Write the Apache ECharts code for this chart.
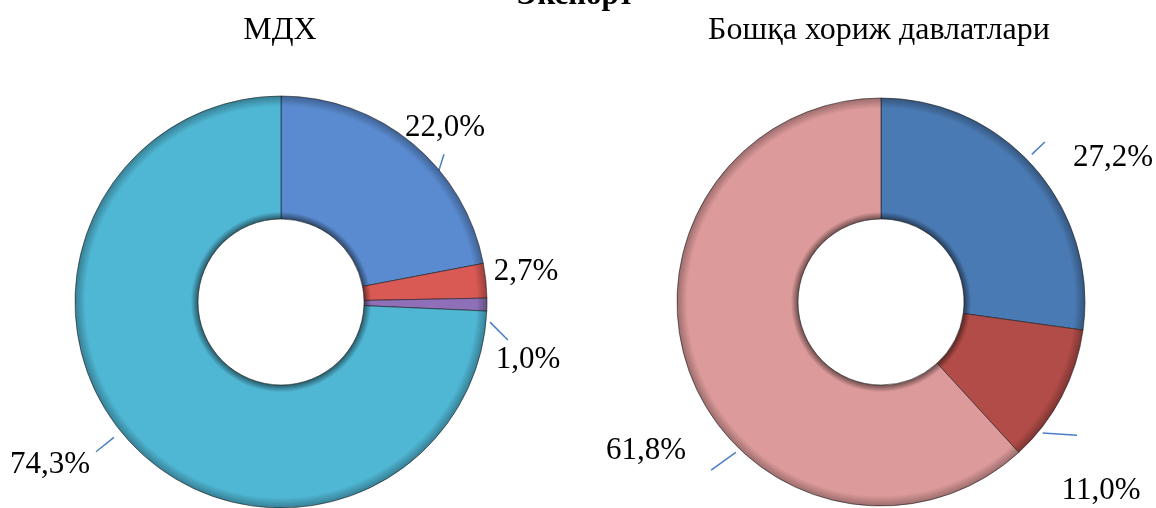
<!DOCTYPE html>
<html>
<head>
<meta charset="utf-8">
<script src="https://cdn.jsdelivr.net/npm/echarts@6/dist/echarts.min.js"></script>
<style>
  html, body { margin: 0; padding: 0; background: #fff; }
  #main { width: 1156px; height: 508px; }
</style>
</head>
<body>
<div id="main"></div>
<script>
// data
const titleText = 'Экспорт';
const leftTitle = 'МДХ';
const rightTitle = 'Бошқа хориж давлатлари';

const leftNames = ['a', 'b', 'c', 'd'];
const leftValues = [22.0, 2.7, 1.0, 74.3];
const leftColors = ['#5a8bd0', '#d95a55', '#8e6fb8', '#4fb6d3'];

const rightNames = ['a', 'b', 'c'];
const rightValues = [27.2, 11.0, 61.8];
const rightColors = ['#4a7ab3', '#b24c48', '#dd9a9a'];

// label spots (text centres) – layout only
const leftLabelPos = [[445, 128], [526, 272], [528, 360], [50, 465]];
const rightLabelPos = [[1113, 158], [1101, 491], [646, 451]];
// leader lines: [start angle (deg, clockwise from top), start r, end angle, end r]; null = none
const leftLeaders = [[51.8, 197, 47.8, 220], null, [95.5, 210, 99.5, 230], [231, 215, 231, 238]];
const rightLeaders = [[45.6, 211, 45.7, 229], [129, 208, 124.2, 237], [224, 209, 225.3, 239]];

const font = '"Liberation Serif", "Times New Roman", serif';

function shade(hex, k) {
    let n = parseInt(hex.slice(1), 16);
    let r = (n >> 16) & 255, g = (n >> 8) & 255, b = n & 255;
    const f = v => Math.max(0, Math.min(255, Math.round(k < 0 ? v * (1 + k) : v + (255 - v) * k)));
    return 'rgb(' + f(r) + ',' + f(g) + ',' + f(b) + ')';
}

function ringFill(color, cx, cy, rIn, rOut) {
    const a = rIn / rOut;
    return {
        type: 'radial', x: cx, y: cy, r: rOut, global: true,
        colorStops: [
            { offset: 0, color: color },
            { offset: a, color: shade(color, -0.5) },
            { offset: a + 0.035, color: color },
            { offset: 0.95, color: color },
            { offset: 1, color: shade(color, -0.3) }
        ]
    };
}

function polar(cx, cy, deg, r) {
    const t = deg * Math.PI / 180;
    return [cx + r * Math.sin(t), cy - r * Math.cos(t)];
}

function makeSeries(names, values, colors, cx, cy, rIn, rOut, labelPos, leaders) {
    const data = values.map((v, i) => ({
        name: names[i],
        value: v,
        itemStyle: { color: ringFill(colors[i], cx, cy, rIn, rOut) },
        labelLine: { show: !!leaders[i] }
    }));
    return {
        type: 'pie',
        center: [cx, cy],
        radius: [rIn, rOut],
        startAngle: 90,
        clockwise: true,
        avoidLabelOverlap: false,
        itemStyle: { borderColor: 'rgba(20,20,20,0.55)', borderWidth: 1 },
        label: {
            show: true,
            position: 'outside',
            formatter: p => p.value.toFixed(1).replace('.', ',') + '%',
            fontFamily: font,
            fontSize: 31,
            color: '#000'
        },
        labelLine: {
            show: true,
            length: 20,
            length2: 0,
            lineStyle: { color: '#4a7ec4', width: 1.5 }
        },
        labelLayout: function (p) {
            const pos = labelPos[p.dataIndex];
            const ld = leaders[p.dataIndex];
            const res = { x: pos[0], y: pos[1], align: 'center', verticalAlign: 'middle' };
            if (ld) {
                const a = polar(cx, cy, ld[0], ld[1]);
                const b = polar(cx, cy, ld[2], ld[3]);
                res.labelLinePoints = [a, b, b];
            }
            return res;
        },
        emphasis: { disabled: true },
        data: data
    };
}

const chart = echarts.init(document.getElementById('main'), null, { renderer: 'canvas' });
chart.setOption({
    backgroundColor: '#fff',
    animation: false,
    graphic: [
        { type: 'text', x: 575, y: -4, style: { text: titleText, font: 'bold 31px ' + font, align: 'center', verticalAlign: 'middle', fill: '#000' } },
        { type: 'text', x: 280, y: 31, style: { text: leftTitle, font: '32px ' + font, align: 'center', verticalAlign: 'middle', fill: '#000' } },
        { type: 'text', x: 879, y: 31, style: { text: rightTitle, font: '32px ' + font, align: 'center', verticalAlign: 'middle', fill: '#000' } }
    ],
    series: [
        makeSeries(leftNames, leftValues, leftColors, 281, 302, 83, 206, leftLabelPos, leftLeaders),
        makeSeries(rightNames, rightValues, rightColors, 881, 302, 83, 204, rightLabelPos, rightLeaders)
    ]
});
</script>
</body>
</html>
